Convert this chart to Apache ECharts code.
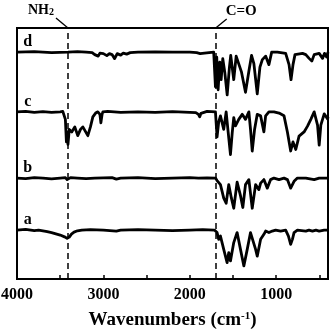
<!DOCTYPE html>
<html>
<head>
<meta charset="utf-8">
<script src="https://cdn.jsdelivr.net/npm/echarts@6/dist/echarts.min.js"></script>
<style>
  html, body { margin: 0; padding: 0; background: #fff; }
  #chart { width: 331px; height: 331px; }
</style>
</head>
<body>
<div id="chart"></div>
<script>
// FTIR spectra, [wavenumber, relative transmittance offset from baseline]
const traceNames = ["a", "b", "c", "d"];
const traceOffsets = [19.5, 40.2, 66.6, 90.4];

const traceA = [[4000,0],[3900,0.3],[3800,-0.2],[3750,0],[3700,-0.3],[3650,-0.6],[3600,-1],[3550,-1.5],[3500,-2],[3450,-2.7],[3420,-3.3],[3410,-3.5],[3395,-2.8],[3370,-1.6],[3340,-0.8],[3300,-0.3],[3250,0],[3150,0.2],[3000,0],[2850,-0.4],[2800,0],[2600,0.2],[2400,0],[2200,-0.2],[2000,0],[1850,0.2],[1715,0],[1703,0],[1684,-1],[1665,-3.7],[1645,-2.4],[1607,-7.7],[1568,-13],[1549,-9],[1529,-12.3],[1491,-5],[1452,-1],[1413,-7.7],[1374,-14.3],[1335,-7.7],[1297,-1],[1277,-0.4],[1238,-7.7],[1219,-10.4],[1180,-3.7],[1142,-1.7],[1122,-0.4],[1084,-1],[1045,-0.4],[1006,0],[948,-0.4],[890,0],[858,-2.4],[832,-5.7],[812,-3.7],[793,-1],[754,0],[657,-0.4],[620,0],[580,-0.4],[540,0],[502,-0.4],[444,0],[400,0]];

const traceB = [[4000,0],[3900,-0.2],[3800,0.2],[3700,0],[3600,-0.3],[3500,0],[3440,0.2],[3420,-0.6],[3410,-1],[3400,-0.4],[3380,0.2],[3300,0],[3200,-0.2],[3100,0],[2900,0.2],[2850,-0.4],[2800,0],[2600,0.2],[2400,-0.2],[2200,0],[2000,0.2],[1900,0],[1800,0.1],[1703,0],[1684,-1],[1645,-2.6],[1607,-8],[1579,-10],[1549,-2.6],[1518,-8],[1491,-12],[1452,-1.6],[1413,-7],[1386,-11.7],[1355,-2.6],[1316,-0.6],[1277,-12],[1238,-2.6],[1200,-4.6],[1180,-2],[1142,-0.6],[1103,-4],[1064,-0.6],[1026,0],[967,-0.6],[909,0],[870,-0.6],[832,-4],[793,-1.3],[754,0],[657,0],[560,-0.6],[502,0],[424,0],[400,0]];

const traceC = [[4000,0],[3900,0.2],[3800,-0.2],[3700,0.1],[3600,-0.2],[3500,0],[3470,0.2],[3455,0],[3440,-3],[3428,-12],[3418,-8],[3410,-13],[3395,-7],[3366,-8],[3331,-6],[3297,-9.5],[3265,-7],[3238,-6],[3180,-9.5],[3150,-6],[3122,-2],[3090,-0.5],[3064,0],[3040,-1],[3029,-4.4],[3015,-1],[3006,0],[2950,0.2],[2800,-0.2],[2600,0],[2400,-0.2],[2200,0.1],[2000,-0.2],[1930,-0.3],[1900,-1],[1885,-2],[1870,-0.6],[1850,0],[1800,0.2],[1703,0],[1684,-10],[1665,-4],[1645,-1.6],[1607,-7],[1579,0],[1556,-8],[1529,-17],[1509,-8.5],[1491,-2.3],[1471,-5.6],[1433,-3],[1393,-1],[1355,-3],[1316,0],[1297,-7],[1277,-15.6],[1250,-7],[1219,-1],[1180,-1.6],[1142,-8],[1122,-1.6],[1084,0],[1026,0],[967,-0.5],[909,-1.6],[870,-8],[832,-15.6],[805,-12],[773,-15],[735,-9.7],[677,-8],[637,-5.7],[599,-3],[560,0],[521,-5.3],[502,-13.3],[483,-5.3],[444,-0.8],[405,-2.8],[400,-2]];

const traceD = [[4000,0],[3800,0.2],[3600,-0.2],[3410,0],[3300,0.2],[3200,0],[3130,-0.2],[3100,-1.0],[3080,-0.6],[3060,-1.6],[3040,-0.4],[3000,-0.6],[2960,-1.4],[2930,-0.6],[2900,-1.0],[2870,-2.6],[2840,-0.6],[2800,-1.2],[2770,-0.4],[2730,-0.8],[2690,-0.2],[2600,0],[2400,0.1],[2200,0],[2000,0],[1920,-0.2],[1880,-0.6],[1860,0],[1830,-0.4],[1723,0],[1703,-13.8],[1688,-2],[1672,-15],[1653,-4],[1637,-11],[1618,-2.6],[1595,-8],[1567,-17],[1541,-6],[1526,-1.3],[1491,-11],[1463,-1.6],[1440,-1.6],[1401,-8],[1355,-16],[1316,-7.6],[1285,-1.3],[1258,-4.6],[1219,-16.6],[1188,-6],[1160,-3],[1122,-1.6],[1084,-5],[1052,0],[986,0],[890,-0.5],[851,-5],[828,-11],[805,-5],[782,-1],[695,-0.5],[657,-1],[619,-2.5],[587,-3.6],[560,-1],[502,-0.5],[463,-2.5],[440,-0.5],[416,-2],[400,0]];

const traces = [traceA, traceB, traceC, traceD];

const markerWn = [3410, 1700];
const tickValues = [4000, 3500, 3000, 2500, 2000, 1500, 1000, 500];
const labelValues = [4000, 3000, 2000, 1000];

const FONT = "Liberation Serif, Times New Roman, serif";

const chart = echarts.init(document.getElementById("chart"));

const series = traces.map((pts, i) => ({
  name: traceNames[i],
  type: "line",
  data: pts.map(([w, v]) => [w, v + traceOffsets[i]]),
  showSymbol: false,
  silent: true,
  lineStyle: { color: "#000", width: 2.8, join: "round" },
  markLine: i === 0 ? {
    silent: true,
    symbol: "none",
    label: { show: false },
    lineStyle: { color: "#000", width: 1.5, type: [6, 4] },
    data: markerWn.map(w => ({ xAxis: w })),
  } : undefined,
}));

chart.setOption({
  animation: false,
  grid: {
    left: 17, right: 3, top: 28, bottom: 52,
    show: true, borderColor: "#000", borderWidth: 2,
    outerBoundsMode: "none",
  },
  xAxis: {
    type: "value",
    min: 400,
    max: 4000,
    inverse: true,
    splitLine: { show: false },
    axisLine: { show: true, lineStyle: { color: "#000", width: 2 } },
    axisTick: { inside: true, length: 4, lineStyle: { color: "#000", width: 1.5 }, customValues: tickValues },
    axisLabel: {
      customValues: labelValues,
      formatter: v => String(v),
      fontFamily: FONT, fontWeight: "bold", fontSize: 16, color: "#000", margin: 8,
    },
    name: "Wavenumbers (cm{sup|-1})",
    nameLocation: "middle",
    nameGap: 32,
    nameTextStyle: {
      fontFamily: FONT, fontWeight: "bold", fontSize: 19, color: "#000",
      rich: { sup: { fontFamily: FONT, fontWeight: "bold", fontSize: 11, color: "#000", verticalAlign: "top" } },
    },
  },
  yAxis: {
    type: "value", min: 0, max: 100, show: false,
  },
  series,
});

// annotations placed from data coordinates
const graphics = [];
traceNames.forEach((n, i) => {
  const p = chart.convertToPixel({ gridIndex: 0 }, [3875, traceOffsets[i] + 4]);
  graphics.push({
    type: "text", x: p[0], y: p[1],
    style: { text: n, font: "bold 16px " + FONT, fill: "#000", align: "center", verticalAlign: "middle" },
  });
});
const nh = chart.convertToPixel({ gridIndex: 0 }, [markerWn[0], 100]);
const co = chart.convertToPixel({ gridIndex: 0 }, [markerWn[1], 100]);
graphics.push(
  { type: "line", shape: { x1: nh[0], y1: nh[1], x2: nh[0] - 12, y2: nh[1] - 10 }, style: { stroke: "#000", lineWidth: 1.3 } },
  { type: "line", shape: { x1: co[0], y1: co[1], x2: co[0] + 11, y2: co[1] - 9 }, style: { stroke: "#000", lineWidth: 1.3 } },
  {
    type: "text", x: nh[0] - 14, y: nh[1] - 18,
    style: {
      text: "NH{s|2}", font: "bold 14px " + FONT, fill: "#000", align: "right", verticalAlign: "middle",
      rich: { s: { font: "bold 10px " + FONT, fill: "#000", verticalAlign: "bottom" } },
    },
  },
  {
    type: "text", x: co[0] + 10, y: co[1] - 17,
    style: { text: "C=O", font: "bold 15px " + FONT, fill: "#000", align: "left", verticalAlign: "middle" },
  }
);
chart.setOption({ graphic: graphics });
</script>
</body>
</html>
